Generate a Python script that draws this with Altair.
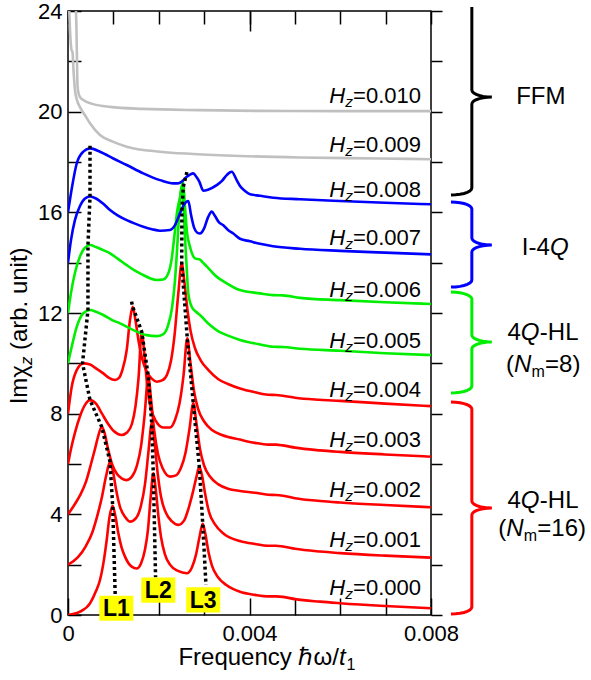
import altair as alt
import pandas as pd
import numpy as np

FONT = "Liberation Sans"

# ---------------- data (frequency in units of 1e-3 hbar*omega/t1; Im chi_z before offset) -------------
HZ = ["0.000", "0.001", "0.002", "0.003", "0.004", "0.005", "0.006", "0.007", "0.008", "0.009", "0.010"]
GROUP = ["HL16", "HL16", "HL16", "HL16", "HL16", "HL8", "HL8", "I4Q", "I4Q", "FFM", "FFM"]
OFFSET = [0, 2, 4, 6, 8, 10, 12, 14, 16, 18, 20]

F_000 = [0, 0.264, 0.485, 0.617, 0.705, 0.793, 0.853, 0.915, 0.985, 1.047, 1.109, 1.179, 1.256, 1.404, 1.514,
         1.609, 1.697, 1.763, 1.818, 1.880, 1.939, 1.994, 2.050, 2.138, 2.248, 2.424, 2.616, 2.733, 2.821, 2.898,
         2.969, 3.030, 3.096, 3.174, 3.306, 3.482, 3.791, 4.121, 4.408, 4.584, 4.738, 5.003, 5.554, 5.994, 6.986, 8.0]
I_000 = [0, 0.13, 0.46, 0.95, 1.39, 2.2, 2.98, 3.9, 4.33, 3.9, 3.25, 2.7, 2.32, 1.92, 1.85,
         2.05, 2.6, 3.4, 4.6, 5.63, 4.9, 3.9, 3.1, 2.4, 2.0, 1.75, 1.66, 1.9, 2.4, 3.1,
         3.62, 3.2, 2.5, 1.95, 1.5, 1.2, 0.92, 0.8, 0.74, 0.74, 0.72, 0.63, 0.53, 0.47, 0.36, 0.27]

F_001 = [0, 0.220, 0.397, 0.529, 0.639, 0.749, 0.837, 0.926, 0.992, 1.058, 1.146, 1.256, 1.366, 1.499, 1.609,
         1.697, 1.774, 1.845, 1.906, 1.972, 2.050, 2.160, 2.292, 2.431, 2.557, 2.667, 2.755, 2.832, 2.894, 2.953,
         3.019, 3.107, 3.240, 3.438, 3.791, 4.121, 4.408, 4.584, 4.738, 5.003, 5.554, 5.994, 6.986, 8.0]
I_001 = [0, 0.3, 0.75, 1.25, 1.9, 2.7, 3.5, 4.09, 3.7, 3.0, 2.3, 1.9, 1.71, 1.85, 2.35,
         3.2, 4.5, 5.62, 4.9, 3.7, 2.7, 2.05, 1.72, 1.58, 1.75, 2.3, 2.9, 3.5, 3.89, 3.55,
         2.85, 2.1, 1.6, 1.22, 0.94, 0.82, 0.75, 0.75, 0.72, 0.63, 0.52, 0.46, 0.36, 0.28]

F_002 = [0, 0.132, 0.264, 0.397, 0.507, 0.595, 0.672, 0.743, 0.804, 0.882, 0.970, 1.080, 1.190, 1.294, 1.410,
         1.521, 1.609, 1.686, 1.770, 1.829, 1.895, 1.983, 2.094, 2.248, 2.380, 2.490, 2.590, 2.678, 2.761, 2.832,
         2.909, 2.997, 3.129, 3.306, 3.526, 3.791, 4.121, 4.408, 4.584, 4.738, 5.003, 5.554, 5.994, 6.986, 8.0]
I_002 = [0, 0.35, 0.75, 1.3, 2.0, 2.6, 3.15, 3.48, 3.25, 2.6, 2.0, 1.6, 1.42, 1.36, 1.5,
         1.95, 2.7, 3.9, 5.47, 4.6, 3.4, 2.4, 1.8, 1.5, 1.55, 1.85, 2.45, 3.4, 4.41, 3.6,
         2.6, 1.95, 1.5, 1.2, 1.02, 0.93, 0.86, 0.78, 0.77, 0.74, 0.64, 0.53, 0.47, 0.37, 0.28]

F_003 = [0, 0.066, 0.154, 0.264, 0.375, 0.485, 0.617, 0.749, 0.882, 1.014, 1.183, 1.300, 1.410, 1.488, 1.554,
         1.624, 1.686, 1.752, 1.829, 1.939, 2.094, 2.248, 2.358, 2.457, 2.545, 2.629, 2.700, 2.777, 2.865, 2.997,
         3.174, 3.394, 3.791, 4.121, 4.408, 4.584, 4.738, 5.003, 5.554, 5.994, 6.986, 8.0]
I_003 = [0, 0.6, 1.25, 1.9, 2.35, 2.54, 2.4, 2.0, 1.6, 1.3, 1.15, 1.25, 1.6, 2.3, 3.4,
         5.26, 4.3, 3.0, 2.2, 1.7, 1.45, 1.45, 1.75, 2.4, 3.5, 4.99, 4.0, 2.9, 2.2, 1.7,
         1.35, 1.15, 0.97, 0.84, 0.77, 0.77, 0.74, 0.65, 0.54, 0.48, 0.38, 0.29]

F_004 = [0, 0.082, 0.192, 0.337, 0.485, 0.617, 0.778, 0.904, 1.036, 1.124, 1.201, 1.294, 1.366, 1.426, 1.488,
         1.554, 1.631, 1.741, 1.851, 1.955, 2.072, 2.182, 2.270, 2.347, 2.431, 2.506, 2.567, 2.634, 2.700, 2.799,
         2.931, 3.085, 3.306, 3.526, 3.791, 4.121, 4.408, 4.584, 4.738, 5.003, 5.554, 5.994, 6.986, 8.0]
I_004 = [0, 1.07, 1.73, 2.0, 1.95, 1.8, 1.6, 1.42, 1.34, 1.42, 1.75, 2.53, 3.72, 4.25, 3.7,
         2.9, 2.2, 1.65, 1.38, 1.27, 1.32, 1.55, 2.1, 3.1, 4.78, 5.97, 5.2, 4.1, 3.3, 2.6,
         2.1, 1.75, 1.38, 1.18, 1.0, 0.85, 0.75, 0.74, 0.71, 0.63, 0.55, 0.51, 0.4, 0.30]

F_005 = [0, 0.082, 0.192, 0.337, 0.485, 0.617, 0.778, 0.970, 1.146, 1.439, 1.734, 1.955, 2.094, 2.204, 2.292,
         2.358, 2.413, 2.457, 2.506, 2.545, 2.579, 2.612, 2.651, 2.726, 2.821, 2.909, 3.129, 3.306, 3.498, 3.791,
         4.231, 4.518, 4.738, 5.113, 5.994, 6.986, 8.0]
I_005 = [0, 0.66, 1.45, 1.99, 2.12, 2.05, 1.92, 1.72, 1.59, 1.32, 1.12, 1.08, 1.15, 1.5, 2.2,
         3.3, 4.8, 6.2, 7.02, 6.3, 5.0, 3.9, 2.78, 2.25, 2.05, 1.92, 1.52, 1.28, 1.12, 0.93,
         0.75, 0.66, 0.65, 0.58, 0.5, 0.4, 0.33]

F_006 = [0, 0.066, 0.154, 0.264, 0.375, 0.485, 0.617, 0.771, 0.926, 1.102, 1.294, 1.477, 1.659, 1.807, 1.955,
         2.094, 2.204, 2.281, 2.347, 2.402, 2.468, 2.534, 2.579, 2.623, 2.689, 2.799, 2.909, 2.975, 3.063, 3.240,
         3.498, 3.791, 4.231, 4.518, 4.738, 5.113, 5.994, 6.986, 8.0]
I_006 = [0, 0.8, 1.6, 2.25, 2.6, 2.7, 2.62, 2.5, 2.37, 2.15, 1.9, 1.68, 1.51, 1.38, 1.31,
         1.33, 1.55, 2.1, 3.1, 4.0, 4.6, 5.2, 4.2, 3.2, 2.63, 2.17, 2.12, 2.0, 1.84, 1.5,
         1.18, 0.91, 0.78, 0.71, 0.7, 0.6, 0.51, 0.43, 0.36]

F_007 = [0, 0.066, 0.154, 0.264, 0.375, 0.485, 0.617, 0.771, 0.926, 1.102, 1.294, 1.477, 1.659, 1.851, 2.028,
         2.248, 2.358, 2.468, 2.556, 2.651, 2.711, 2.777, 2.843, 2.909, 2.997, 3.085, 3.167, 3.240, 3.328, 3.423,
         3.526, 3.643, 3.791, 4.011, 4.231, 4.518, 5.113, 5.994, 6.986, 8.0]
I_007 = [0, 0.9, 1.7, 2.25, 2.55, 2.63, 2.55, 2.35, 2.09, 1.87, 1.69, 1.55, 1.43, 1.33, 1.27,
         1.3, 1.49, 1.96, 2.3, 2.45, 1.9, 1.4, 1.2, 1.16, 1.35, 1.8, 2.03, 1.85, 1.6, 1.49,
         1.3, 1.16, 0.95, 0.85, 0.75, 0.65, 0.55, 0.47, 0.4, 0.33]

F_008 = [0, 0.088, 0.192, 0.337, 0.485, 0.705, 0.998, 1.294, 1.659, 2.028, 2.321, 2.424, 2.506, 2.616, 2.689,
         2.761, 2.832, 2.894, 2.982, 3.085, 3.277, 3.394, 3.498, 3.608, 3.718, 3.791, 3.901, 4.011, 4.231, 4.525,
         5.113, 5.994, 6.986, 8.0]
I_008 = [0, 1.0, 1.94, 2.41, 2.54, 2.41, 2.14, 1.88, 1.55, 1.28, 1.15, 1.15, 1.22, 1.41, 1.5,
         1.55, 1.4, 1.22, 0.86, 0.9, 1.08, 1.25, 1.48, 1.61, 1.28, 1.05, 0.85, 0.72, 0.66, 0.58,
         0.52, 0.45, 0.38, 0.32]

F_009 = [0.022, 0.044, 0.077, 0.099, 0.121, 0.154, 0.198, 0.264, 0.375, 0.485, 0.705, 0.998, 1.294, 2.028,
         2.761, 3.791, 5.113, 6.876, 8.0]
I_009 = [6.23, 5.24, 4.45, 4.37, 3.65, 2.86, 2.46, 2.18, 1.86, 1.54, 1.07, 0.80, 0.61, 0.41,
         0.32, 0.24, 0.18, 0.14, 0.11]

F_010 = [0.165, 0.187, 0.198, 0.209, 0.231, 0.264, 0.337, 0.558, 0.926, 1.659, 2.909, 4.231, 5.994, 8.0]
I_010 = [4.43, 3.24, 2.05, 1.06, 0.74, 0.58, 0.46, 0.30, 0.19, 0.11, 0.06, 0.03, 0.02, 0.02]

CURVES = [(F_000, I_000), (F_001, I_001), (F_002, I_002), (F_003, I_003), (F_004, I_004), (F_005, I_005),
          (F_006, I_006), (F_007, I_007), (F_008, I_008), (F_009, I_009), (F_010, I_010)]

# dotted guide lines through the L1, L2, L3 peaks
L1_F = [0.485, 0.485, 0.44, 0.44, 0.32, 0.485, 0.743, 0.926, 0.985, 1.04]
L1_V = [18.65, 16.63, 14.7, 12.12, 10.0, 8.54, 7.48, 6.09, 4.33, 0.8]
L2_F = [1.40, 1.426, 1.624, 1.770, 1.845, 1.880, 1.93]
L2_V = [12.45, 12.25, 11.26, 9.47, 7.62, 5.63, 1.5]
L3_F = [2.62, 2.54, 2.51, 2.506, 2.629, 2.761, 2.894, 2.969, 3.04]
L3_V = [17.6, 17.0, 16.0, 13.97, 10.99, 8.41, 5.89, 3.62, 1.2]

# L labels
L_NAME = ["L1", "L2", "L3"]
L_F = [1.065, 1.99, 2.98]
L_V = [0.27, 0.99, 0.60]

# H_z labels
HZ_LABEL_F = 7.78
HZ_LABEL_V = [0.79, 2.71, 4.69, 6.69, 8.67, 10.61, 12.65, 14.70, 16.62, 18.38, 20.34]

# braces (phase groups)
BRACE_NAME = ["FFM", "I4Q", "HL8", "HL16"]
BRACE_TOP = [24.16, 16.41, 12.83, 8.46]
BRACE_TIP = [20.58, 14.70, 10.85, 4.25]
BRACE_BOTTOM = [16.69, 13.03, 8.82, 0.04]
BRACE_TOP_CURL = [False, True, True, True]
BR_END, BR_STEM, BR_TIPX, BR_CURL = 8.44, 8.90, 9.34, 0.28

COLORS_DOMAIN = ["FFM", "I4Q", "HL8", "HL16"]
CURVE_COLORS = ["#c0c0c0", "#0000ff", "#00ee00", "#ff0000"]
BRACE_COLORS = ["#000000", "#0000ff", "#00ee00", "#ff0000"]

# ---------------- build tables ----------------
rows = []
for k, (fs, ims) in enumerate(CURVES):
    for f, im in zip(fs, ims):
        rows.append({"f": f, "v": im + OFFSET[k], "hz": HZ[k], "g": GROUP[k]})
curves_df = pd.DataFrame(rows)

drows = []
for name, fs, vs in [("L1", L1_F, L1_V), ("L2", L2_F, L2_V), ("L3", L3_F, L3_V)]:
    for i, (f, v) in enumerate(zip(fs, vs)):
        drows.append({"f": f, "v": v, "line": name, "i": i})
dotted_df = pd.DataFrame(drows)

lab_df = pd.DataFrame({"f": L_F, "v": L_V, "t": L_NAME})


def brace_points(top, tip, bottom, curl_top):
    a = BR_STEM - BR_END
    d = BR_TIPX - BR_STEM
    th = np.linspace(0, np.pi / 2, 8)
    pts = []
    if curl_top:
        pts += [(BR_STEM - a + a * np.sin(t), top - BR_CURL + BR_CURL * np.cos(t)) for t in th]
    else:
        pts += [(BR_STEM, top)]
    pts += [(BR_TIPX - d * np.cos(t), tip + BR_CURL - BR_CURL * np.sin(t)) for t in th]
    pts += [(BR_TIPX - d * np.cos(t), tip - BR_CURL + BR_CURL * np.sin(t)) for t in th[::-1]]
    pts += [(BR_STEM - a + a * np.sin(t), bottom + BR_CURL - BR_CURL * np.cos(t)) for t in th[::-1]]
    return pts


brows = []
for n, tp, tip, bt, c in zip(BRACE_NAME, BRACE_TOP, BRACE_TIP, BRACE_BOTTOM, BRACE_TOP_CURL):
    for i, (f, v) in enumerate(brace_points(tp, tip, bt, c)):
        brows.append({"f": f, "v": v, "b": n, "i": i})
brace_df = pd.DataFrame(brows)

# ---------------- scales & axes ----------------
XS = alt.Scale(domain=[0, 8], nice=False, zero=False)
YS = alt.Scale(domain=[0, 24], nice=False, zero=False)
W, H = 363, 604
TICK = dict(tickColor="black", tickWidth=1.5, labels=False, domain=False, grid=False, title=None)

AX_BOTTOM = alt.Axis(orient="bottom", values=[0, 4, 8],
                     labelExpr="datum.value == 0 ? '0' : format(datum.value / 1000, '.3f')",
                     ticks=False, domain=False, grid=False, title=None, labelFont=FONT, labelFontSize=22,
                     labelColor="black", labelPadding=8, labelFlush=False, labelOverlap=False)
AX_LEFT = alt.Axis(orient="left", values=list(range(0, 25, 4)), ticks=False, domain=False, grid=False,
                   title=None, labelFont=FONT, labelFontSize=22, labelColor="black", labelPadding=6,
                   labelOverlap=False)
AX_LEFT_IN = alt.Axis(orient="right", offset=-W, values=list(range(0, 25, 2)), tickSize=13, **TICK)
AX_RIGHT = alt.Axis(orient="right", values=list(range(0, 25, 2)), tickSize=11, **TICK)
AX_BOTTOM_IN = alt.Axis(orient="top", offset=-H, values=list(range(0, 9)), tickSize=17, **TICK)
AX_TOP_IN = alt.Axis(orient="bottom", offset=-H, values=list(range(0, 9)), tickSize=13, **TICK)
AX_TOP_LONG = alt.Axis(orient="bottom", offset=-H, values=[4], tickSize=20, **TICK)


def X(axis=None):
    return alt.X("f:Q", scale=XS, axis=axis)


def Y(axis=None):
    return alt.Y("v:Q", scale=YS, axis=axis)


layers = []

# spectra
layers.append(
    alt.Chart(curves_df).mark_line(clip=True, interpolate="monotone", strokeWidth=2.6).encode(
        x=X(AX_BOTTOM), y=Y(AX_LEFT), detail="hz:N",
        color=alt.Color("g:N", scale=alt.Scale(domain=COLORS_DOMAIN, range=CURVE_COLORS), legend=None))
)

# dotted guide lines
layers.append(
    alt.Chart(dotted_df).mark_line(color="black", strokeWidth=3.5, strokeDash=[3, 3], clip=False).encode(
        x=X(AX_BOTTOM_IN), y=Y(AX_LEFT_IN), detail="line:N", order=alt.Order("i:Q"))
)

# yellow label boxes
layers.append(
    alt.Chart(lab_df).mark_point(shape="M-1,-0.74L1,-0.74L1,0.74L-1,0.74Z", size=34 * 34, filled=True,
                                 fill="#ffff00", opacity=1, strokeWidth=0, clip=False).encode(
        x=X(AX_TOP_IN), y=Y(AX_RIGHT))
)
layers.append(
    alt.Chart(lab_df).mark_text(font=FONT, fontSize=23, fontWeight="bold", color="black",
                                align="center", baseline="middle", dy=1, clip=False).encode(
        x=X(AX_TOP_LONG), y=Y(), text="t:N")
)


def text_layer(df, **kw):
    base = dict(font=FONT, color="black", clip=False, baseline="alphabetic")
    base.update(kw)
    return alt.Chart(df).mark_text(**base).encode(x=X(), y=Y(), text="t:N")


# H_z labels
hz_num = pd.DataFrame({"f": [HZ_LABEL_F] * len(HZ), "v": HZ_LABEL_V, "t": ["=" + h for h in HZ]})
hz_z = pd.DataFrame({"f": [HZ_LABEL_F] * len(HZ), "v": HZ_LABEL_V, "t": ["z"] * len(HZ)})
hz_h = pd.DataFrame({"f": [HZ_LABEL_F] * len(HZ), "v": HZ_LABEL_V, "t": ["H"] * len(HZ)})
layers.append(text_layer(hz_num, fontSize=22, align="right"))
layers.append(text_layer(hz_z, fontSize=15.5, fontStyle="italic", align="right", dx=-68, dy=4))
layers.append(text_layer(hz_h, fontSize=22, fontStyle="italic", align="right", dx=-76))

# braces
layers.append(
    alt.Chart(brace_df).mark_line(strokeWidth=3, clip=False).encode(
        x=X(), y=Y(), detail="b:N", order=alt.Order("i:Q"),
        stroke=alt.Stroke("b:N", scale=alt.Scale(domain=COLORS_DOMAIN, range=BRACE_COLORS), legend=None))
)

# phase labels on the right
RS = 24
layers.append(text_layer(pd.DataFrame({"f": [10.42], "v": [20.3], "t": ["FFM"]}), fontSize=RS, align="center"))
layers.append(text_layer(pd.DataFrame({"f": [10.62], "v": [14.3], "t": ["I-4"]}), fontSize=RS, align="right"))
layers.append(text_layer(pd.DataFrame({"f": [10.62], "v": [14.3], "t": ["Q"]}), fontSize=RS, align="left",
                         fontStyle="italic"))
hl_f, hl_v = [9.98, 9.98], [10.93, 4.24]
layers.append(text_layer(pd.DataFrame({"f": hl_f, "v": hl_v, "t": ["4", "4"]}), fontSize=RS, align="right"))
layers.append(text_layer(pd.DataFrame({"f": hl_f, "v": hl_v, "t": ["Q", "Q"]}), fontSize=RS, align="left",
                         fontStyle="italic"))
layers.append(text_layer(pd.DataFrame({"f": hl_f, "v": hl_v, "t": ["-HL", "-HL"]}), fontSize=RS, align="left",
                         dx=19))
nm_f, nm_v = [9.83, 9.66], [9.65, 3.14]
layers.append(text_layer(pd.DataFrame({"f": nm_f, "v": nm_v, "t": ["(", "("]}), fontSize=RS, align="right"))
layers.append(text_layer(pd.DataFrame({"f": nm_f, "v": nm_v, "t": ["N", "N"]}), fontSize=RS, align="left",
                         fontStyle="italic"))
layers.append(text_layer(pd.DataFrame({"f": nm_f, "v": nm_v, "t": ["m", "m"]}), fontSize=16, align="left",
                         dx=17.5, dy=5))
layers.append(text_layer(pd.DataFrame({"f": nm_f, "v": nm_v, "t": ["=8)", "=16)"]}), fontSize=RS, align="left",
                         dx=31))

# axis titles
xt = pd.DataFrame({"f": [5.97], "v": [-1.99]})
layers.append(text_layer(xt.assign(t=["Frequency \u210f\u03c9/"]), fontSize=24, align="right"))
layers.append(text_layer(xt.assign(t=["t"]), fontSize=24, align="left", fontStyle="italic"))
layers.append(text_layer(xt.assign(t=["1"]), fontSize=16, align="left", dx=7.5, dy=5))

yt = pd.DataFrame({"f": [-0.90], "v": [9.93]})
layers.append(text_layer(yt.assign(t=["Im\u03c7"]), fontSize=24, align="right", angle=270))
layers.append(text_layer(yt.assign(t=["z"]), fontSize=17, align="left", angle=270, fontStyle="italic", dy=5))
layers.append(text_layer(yt.assign(t=["(arb. unit)"]), fontSize=24, align="left", angle=270, dx=15))

chart = (
    alt.layer(*layers)
    .resolve_axis(x="independent", y="independent")
    .properties(width=W, height=H, padding={"left": 68, "top": 11, "right": 160, "bottom": 65},
                autosize=alt.AutoSizeParams(type="none"), background="white")
    .configure_view(stroke="black", strokeWidth=1.5)
)

chart.save("out.html", embed_options={"renderer": "svg", "actions": False})
